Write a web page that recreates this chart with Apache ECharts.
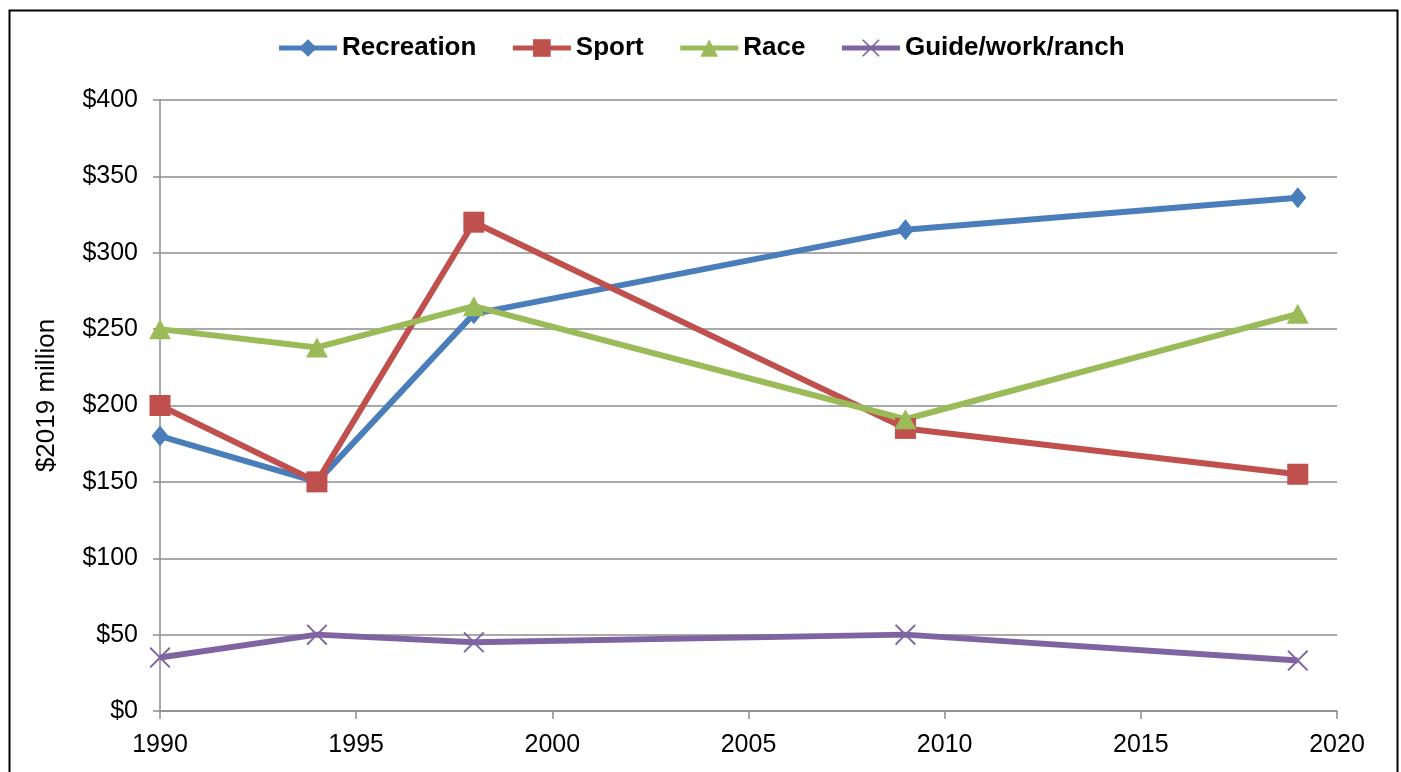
<!DOCTYPE html>
<html>
<head>
<meta charset="utf-8">
<script src="https://cdn.jsdelivr.net/npm/echarts@6/dist/echarts.min.js"></script>
<style>html,body{margin:0;padding:0;background:#fff;}#c{width:1401px;height:772px;}</style>
</head>
<body>
<div id="c"></div>
<script>
const years = [1990, 1994, 1998, 2009, 2019];
const seriesNames = ['Recreation', 'Sport', 'Race', 'Guide/work/ranch'];
const recreation = [180, 150, 260, 315, 336];
const sport = [200, 150, 320, 185, 155];
const race = [250, 238, 265, 191, 260];
const guide = [35, 50, 45, 50, 33];
const yTicks = [0, 50, 100, 150, 200, 250, 300, 350, 400];
const xTicks = [1990, 1995, 2000, 2005, 2010, 2015, 2020];

const colors = ['#4A7EBB', '#C0504D', '#9BBB59', '#8064A2'];
const xPath = 'path://M0,1.3 L1.3,0 L10,8.7 L18.7,0 L20,1.3 L11.3,10 L20,18.7 L18.7,20 L10,11.3 L1.3,20 L0,18.7 L8.7,10 Z';
const symbols = ['diamond', 'rect', 'triangle', xPath];
const sizes = [[17, 21], 21, [22, 20], 21];
const values = [recreation, sport, race, guide];

const chart = echarts.init(document.getElementById('c'), null, {renderer: 'canvas'});
const font = 'Liberation Sans, Arial, sans-serif';
chart.setOption({
  animation: false,
  color: colors,
  graphic: [{
    type: 'rect', left: 7, top: 8, silent: true,
    shape: {width: 1388, height: 790},
    style: {fill: 'none', stroke: '#000', lineWidth: 2}
  }],
  legend: {
    top: 30, left: 'center',
    itemWidth: 58, itemHeight: 22, itemGap: 34,
    lineStyle: {width: 5},
    textStyle: {fontFamily: font, fontSize: 26, fontWeight: 'bold', color: '#000'},
    data: seriesNames
  },
  grid: {left: 160, right: 64, top: 100, bottom: 61, containLabel: false},
  xAxis: {
    type: 'value', min: xTicks[0], max: xTicks[xTicks.length - 1], interval: 5,
    axisLine: {show: true, lineStyle: {color: '#8C8C8C', width: 1.5}},
    axisTick: {show: true, length: 8, lineStyle: {color: '#8C8C8C', width: 1.5}},
    splitLine: {show: false},
    axisLabel: {fontFamily: font, fontSize: 25, color: '#000', margin: 22, formatter: v => String(v)}
  },
  yAxis: {
    type: 'value', min: yTicks[0], max: yTicks[yTicks.length - 1], interval: 50,
    name: '$2019 million', nameLocation: 'middle', nameGap: 100,
    nameTextStyle: {fontFamily: font, fontSize: 26, color: '#000', padding: [0, 0, 0, 20]},
    axisLine: {show: true, lineStyle: {color: '#8C8C8C', width: 1.5}},
    axisTick: {show: true, length: 7, lineStyle: {color: '#8C8C8C', width: 1.5}},
    splitLine: {show: true, lineStyle: {color: '#8C8C8C', width: 1.5}},
    axisLabel: {fontFamily: font, fontSize: 25, color: '#000', margin: 22, formatter: v => '$' + v}
  },
  series: seriesNames.map((n, i) => ({
    name: n, type: 'line',
    data: years.map((y, j) => [y, values[i][j]]),
    symbol: symbols[i], symbolSize: sizes[i], showSymbol: true,
    lineStyle: {width: 6, color: colors[i]},
    itemStyle: {color: colors[i]},
    emphasis: {disabled: true}
  }))
});
</script>
</body>
</html>
